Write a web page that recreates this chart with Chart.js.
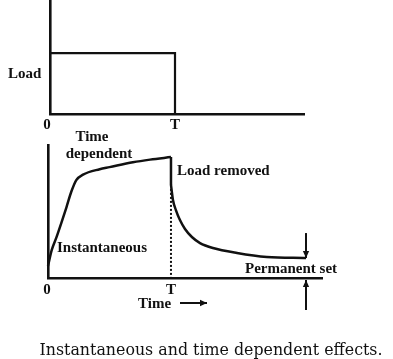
<!DOCTYPE html>
<html>
<head>
<meta charset="utf-8">
<script src="https://cdn.jsdelivr.net/npm/chart.js@4.4.1/dist/chart.umd.min.js"></script>
<style>
  html, body { margin: 0; padding: 0; background: #fff; }
  #wrap { position: relative; width: 393px; height: 359px; }
  canvas { position: absolute; left: 0; top: 0; }
</style>
</head>
<body>
<div id="wrap">
  <canvas id="load" width="393" height="359"></canvas>
  <canvas id="strain" width="393" height="359"></canvas>
</div>
<script>
// ---- data ----
const T = 10;                       // load removal time
const tickLabels = ['0', 'T'];
const tickValues = [0, T];

const loadTime  = [0, 10, 10];
const loadValue = [1, 1, 0];

const riseTime   = [0, 0.3, 0.7, 1.1, 1.5, 1.9, 2.3, 2.85, 4.2, 5.0, 6.9, 8.3, 10];
const riseStrain = [0.10, 0.23, 0.34, 0.46, 0.585, 0.715, 0.81, 0.855, 0.90, 0.917, 0.957, 0.979, 1.0];

const fallTime   = [10, 10.16, 10.4, 10.73, 11.14, 11.7, 12.36, 13.41, 15.37, 17.8, 20.98];
const fallStrain = [0.77, 0.645, 0.562, 0.479, 0.405, 0.339, 0.289, 0.248, 0.207, 0.174, 0.165];

// ---- helpers ----
const pts = (xs, ys) => xs.map((x, i) => ({ x, y: ys[i] }));
const BLACK = '#111';
const LBL = 'bold 15px "Liberation Serif", "Times New Roman", serif';

function axis(min, max) {
  return {
    type: 'linear', min, max, display: true,
    grid: { display: false, drawTicks: false },
    ticks: { display: false },
    border: { display: true, color: BLACK, width: 2.6 },
    afterFit(s) { if (s.isHorizontal()) s.height = 0; else s.width = 0; }
  };
}

function text(ctx, str, x, y, align) {
  ctx.save();
  ctx.font = LBL;
  ctx.fillStyle = BLACK;
  ctx.textAlign = align || 'left';
  ctx.textBaseline = 'middle';
  ctx.fillText(str, x, y);
  ctx.restore();
}

function arrow(ctx, x1, y1, x2, y2, head) {
  ctx.save();
  ctx.strokeStyle = BLACK; ctx.fillStyle = BLACK; ctx.lineWidth = 2;
  ctx.beginPath(); ctx.moveTo(x1, y1); ctx.lineTo(x2, y2); ctx.stroke();
  const a = Math.atan2(y2 - y1, x2 - x1);
  ctx.beginPath();
  ctx.moveTo(x2, y2);
  ctx.lineTo(x2 - head * Math.cos(a) + head * 0.45 * Math.sin(a), y2 - head * Math.sin(a) - head * 0.45 * Math.cos(a));
  ctx.lineTo(x2 - head * Math.cos(a) - head * 0.45 * Math.sin(a), y2 - head * Math.sin(a) + head * 0.45 * Math.cos(a));
  ctx.closePath(); ctx.fill();
  ctx.restore();
}

const common = {
  responsive: false, animation: false, events: [],
  plugins: { legend: { display: false }, tooltip: { enabled: false }, title: { display: false } }
};

// ---- top: load history ----
new Chart(document.getElementById('load'), {
  type: 'line',
  data: { datasets: [{
    data: pts(loadTime, loadValue), borderColor: BLACK, borderWidth: 2.2,
    pointRadius: 0, tension: 0, clip: false
  }]},
  options: Object.assign({}, common, {
    layout: { padding: { left: 50, right: 89, top: 0, bottom: 245 } },
    scales: { x: axis(0, 20.32), y: axis(0, 1.87) }
  }),
  plugins: [{
    id: 'loadLabels',
    afterDraw(chart) {
      const { ctx, scales: { x, y } } = chart;
      const by = y.getPixelForValue(0);
      tickValues.forEach((v, i) => text(ctx, tickLabels[i], x.getPixelForValue(v) - (i === 0 ? 3 : 0), by + 11, 'center'));
      text(ctx, 'Load', 8, 74, 'left');
    }
  }]
});

// ---- bottom: strain response ----
new Chart(document.getElementById('strain'), {
  type: 'line',
  data: { datasets: [
    { data: pts(riseTime, riseStrain), borderColor: BLACK, borderWidth: 2.5,
      pointRadius: 0, cubicInterpolationMode: 'monotone', clip: false },
    { data: [{ x: T, y: riseStrain[riseStrain.length - 1] }, { x: fallTime[0], y: fallStrain[0] }],
      borderColor: BLACK, borderWidth: 2.5, pointRadius: 0, tension: 0, clip: false },
    { data: pts(fallTime, fallStrain), borderColor: BLACK, borderWidth: 2.5,
      pointRadius: 0, cubicInterpolationMode: 'monotone', clip: false }
  ]},
  options: Object.assign({}, common, {
    layout: { padding: { left: 48, right: 71, top: 145, bottom: 81 } },
    scales: { x: axis(0, 22.28), y: axis(0, 1.1) }
  }),
  plugins: [{
    id: 'strainLabels',
    afterDraw(chart) {
      const { ctx, scales: { x, y } } = chart;
      const by = y.getPixelForValue(0);
      const tx = x.getPixelForValue(T);
      // dotted line at T
      ctx.save();
      ctx.strokeStyle = BLACK; ctx.lineWidth = 2; ctx.setLineDash([2, 2]);
      ctx.beginPath(); ctx.moveTo(tx, y.getPixelForValue(fallStrain[0]) + 4); ctx.lineTo(tx, by); ctx.stroke();
      ctx.restore();
      // permanent set arrows
      const ex = x.getPixelForValue(fallTime[fallTime.length - 1]);
      const ey = y.getPixelForValue(fallStrain[fallStrain.length - 1]);
      arrow(ctx, ex, ey - 25, ex, ey, 7);
      arrow(ctx, ex, by + 32, ex, by + 2, 7);
      // tick labels
      tickValues.forEach((v, i) => text(ctx, tickLabels[i], x.getPixelForValue(v) - (i === 0 ? 1 : 0), by + 12, 'center'));
      // annotations
      text(ctx, 'Time', 92, 137, 'center');
      text(ctx, 'dependent', 99, 154, 'center');
      text(ctx, 'Load removed', 177, 171, 'left');
      text(ctx, 'Instantaneous', 57, 248, 'left');
      text(ctx, 'Permanent set', 245, 269, 'left');
      text(ctx, 'Time', 138, 304, 'left');
      arrow(ctx, 180, 303, 207, 303, 7);
      // caption
      ctx.save();
      ctx.font = '16px "DejaVu Serif", serif';
      ctx.fillStyle = BLACK;
      ctx.textAlign = 'center';
      ctx.textBaseline = 'alphabetic';
      ctx.fillText('Instantaneous and time dependent effects.', 211, 355, 343);
      ctx.restore();
    }
  }]
});
</script>
</body>
</html>
